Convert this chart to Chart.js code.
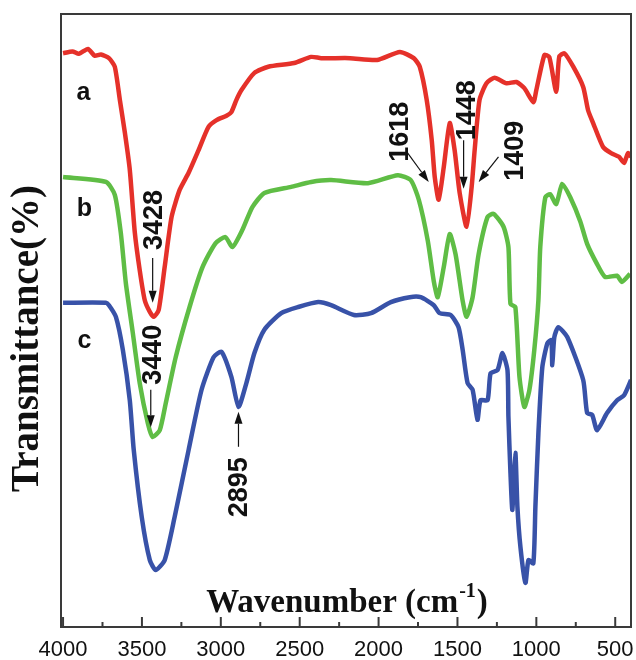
<!DOCTYPE html>
<html lang="en">
<head>
  <meta charset="UTF-8">
  <title>FTIR spectra</title>
  <script src="https://cdn.jsdelivr.net/npm/chart.js"></script>
  <style>
    body {
      margin: 0;
      background: #ffffff;
    }
    #wrap {
      width: 636px;
      height: 660px;
    }
  </style>
</head>
<body>
  <div id="wrap">
    <canvas id="ftir" width="636" height="660"></canvas>
  </div>

  <script>
    // curve labels
    const seriesNames = ['a', 'b', 'c'];

    // x tick labels (every 500, minor ticks every 250)
    const tickLabels = ['500', '1000', '1500', '2000', '2500', '3000', '3500', '4000'];

    // spectrum a (red)
    const waveA = [4000, 3940, 3900, 3842, 3800, 3760, 3709, 3672, 3640, 3608, 3577, 3545, 3514, 3482, 3450, 3425,
      3394, 3356, 3312, 3261, 3204, 3141, 3078, 3027, 2964, 2933, 2901, 2869, 2787, 2699, 2535, 2427, 2364, 2181,
      2010, 1865, 1777, 1739, 1695, 1663, 1644, 1619, 1587, 1549, 1518, 1486, 1442, 1410, 1391, 1360, 1316, 1265,
      1189, 1126, 1076, 1019, 1000, 949, 918, 874, 855, 823, 766, 703, 672, 640, 577, 526, 476, 444, 419, 400];
    const transA = [93.6, 93.9, 93.5, 94.3, 93.2, 93.4, 92.8, 91.4, 86.0, 80.6, 74.6, 64.3, 58.2, 53.3, 51.4, 50.6,
      51.7, 58.7, 66.9, 71.3, 74.1, 77.8, 81.6, 82.7, 83.4, 84.0, 86.0, 87.6, 90.4, 91.4, 92.0, 93.0, 92.8, 92.8,
      92.5, 93.8, 92.8, 91.4, 86.0, 79.4, 73.4, 69.7, 75.0, 82.2, 77.8, 70.8, 65.3, 71.8, 77.8, 86.0, 88.7, 89.6,
      88.7, 88.9, 87.9, 85.6, 87.6, 93.3, 93.0, 87.3, 93.0, 93.6, 91.4, 88.1, 84.3, 82.2, 78.3, 77.3, 76.7, 75.7, 77.3, 76.7];

    // spectrum b (green)
    const waveB = [4000, 3728, 3672, 3634, 3602, 3558, 3514, 3463, 3432, 3387, 3349, 3286, 3198, 3116, 3034, 2971,
      2926, 2863, 2800, 2724, 2554, 2427, 2301, 2067, 1878, 1796, 1745, 1688, 1650, 1625, 1587, 1549, 1512, 1467,
      1442, 1404, 1366, 1309, 1271, 1208, 1177, 1164, 1133, 1107, 1076, 1044, 1013, 987, 975, 943, 912, 874, 836,
      785, 722, 678, 615, 564, 488, 457, 406];
    const transB = [73.4, 72.6, 70.5, 64.3, 56.1, 48.0, 39.8, 33.3, 31.0, 32.1, 36.5, 44.0, 52.2, 58.7, 62.6, 63.6,
      62.0, 64.8, 68.5, 70.8, 71.8, 72.6, 72.9, 72.4, 73.7, 72.9, 69.7, 63.0, 56.4, 53.8, 58.7, 64.1, 60.8, 53.2,
      50.6, 53.8, 60.8, 66.9, 67.4, 65.3, 62.0, 52.7, 52.2, 40.8, 35.9, 38.7, 45.2, 53.3, 62.0, 70.1, 70.6, 69.0, 72.3,
      70.1, 66.2, 62.5, 59.2, 57.1, 57.3, 56.3, 57.6];

    // spectrum c (blue)
    const waveC = [4000, 3728, 3709, 3665, 3621, 3577, 3552, 3501, 3450, 3413, 3356, 3293, 3204, 3122, 3046, 2996,
      2933, 2888, 2838, 2787, 2724, 2617, 2509, 2383, 2301, 2156, 2048, 1922, 1802, 1733, 1650, 1613, 1543, 1493,
      1467, 1436, 1404, 1373, 1354, 1309, 1290, 1246, 1215, 1183, 1177, 1164, 1152, 1133, 1120, 1101, 1069, 1050,
      1019, 1006, 987, 962, 930, 905, 899, 886, 861, 804, 703, 678, 646, 615, 552, 488, 444, 400];
    const transC = [52.9, 52.9, 52.5, 50.6, 45.2, 37.0, 28.9, 17.9, 10.9, 9.3, 10.9, 17.9, 28.9, 38.7, 44.0, 44.9,
      40.8, 35.9, 39.8, 44.7, 48.5, 51.2, 52.2, 53.0, 52.5, 50.9, 51.2, 53.0, 53.8, 53.8, 52.5, 51.2, 50.9, 48.9,
      45.2, 39.8, 38.7, 33.8, 37.0, 37.0, 41.4, 41.9, 44.7, 41.9, 34.3, 25.1, 19.1, 28.4, 19.6, 13.1, 7.2, 10.9,
      10.4, 19.6, 31.6, 42.4, 46.3, 46.8, 42.7, 47.3, 48.9, 47.3, 40.3, 34.9, 34.6, 32.1, 34.9, 37.0, 37.8, 40.3];

    function toPoints(w, t) {
      return w.map((x, i) => ({ x: x, y: t[i] }));
    }

    // peak annotations: text anchor and arrow (from -> to), in data units
    const peaks = [
      { text: '3428', tx: 3419, ty: 66.4, x1: 3432, y1: 60.2, x2: 3432, y2: 52.9 },
      { text: '3440', tx: 3425, ty: 44.4, x1: 3444, y1: 38.7, x2: 3444, y2: 32.6 },
      { text: '2895', tx: 2882, ty: 22.8, x1: 2888, y1: 29.4, x2: 2888, y2: 35.1 },
      { text: '1618', tx: 1859, ty: 80.8, x1: 1821, y1: 77.5, x2: 1682, y2: 72.6 },
      { text: '1448', tx: 1436, ty: 84.3, x1: 1461, y1: 79.4, x2: 1461, y2: 71.5 },
      { text: '1409', tx: 1133, ty: 77.7, x1: 1240, y1: 76.7, x2: 1366, y2: 72.6 }
    ];
    const nameAnchors = [[3870, 87.1], [3865, 68.2], [3865, 46.7]];

    function drawArrow(ctx, x1, y1, x2, y2) {
      const ang = Math.atan2(y2 - y1, x2 - x1);
      const hl = 12, hw = 4;
      ctx.beginPath();
      ctx.moveTo(x1, y1);
      ctx.lineTo(x2 - Math.cos(ang) * hl, y2 - Math.sin(ang) * hl);
      ctx.lineWidth = 1.2;
      ctx.strokeStyle = '#111';
      ctx.stroke();
      ctx.beginPath();
      ctx.moveTo(x2, y2);
      ctx.lineTo(x2 - Math.cos(ang) * hl - Math.sin(ang) * hw, y2 - Math.sin(ang) * hl + Math.cos(ang) * hw);
      ctx.lineTo(x2 - Math.cos(ang) * hl + Math.sin(ang) * hw, y2 - Math.sin(ang) * hl - Math.cos(ang) * hw);
      ctx.closePath();
      ctx.fillStyle = '#111';
      ctx.fill();
    }

    function vText(ctx, txt, x, y) {
      ctx.save();
      ctx.translate(x, y);
      ctx.rotate(-Math.PI / 2);
      ctx.textAlign = 'center';
      ctx.textBaseline = 'middle';
      ctx.fillText(txt, 0, 0);
      ctx.restore();
    }

    const decor = {
      id: 'decor',
      afterDatasetsDraw(chart) {
        const ctx = chart.ctx;
        const area = chart.chartArea;
        const xs = chart.scales.x, ys = chart.scales.y;
        ctx.save();

        // frame
        ctx.strokeStyle = '#3a3a3a';
        ctx.lineWidth = 2;
        ctx.strokeRect(area.left, area.top, area.right - area.left, area.bottom - area.top);

        // inward tick marks on the bottom axis
        xs.ticks.forEach(t => {
          const px = xs.getPixelForValue(t.value);
          const len = t.value % 500 === 0 ? 10 : 5;
          ctx.beginPath();
          ctx.moveTo(px, area.bottom);
          ctx.lineTo(px, area.bottom - len);
          ctx.stroke();
        });

        // curve names
        ctx.fillStyle = '#111';
        ctx.font = 'bold 25px "Liberation Sans", Arial, sans-serif';
        ctx.textAlign = 'center';
        ctx.textBaseline = 'middle';
        seriesNames.forEach((n, i) => {
          ctx.fillText(n, xs.getPixelForValue(nameAnchors[i][0]), ys.getPixelForValue(nameAnchors[i][1]));
        });

        // peak labels and arrows
        ctx.font = 'bold 27px "Liberation Sans", Arial, sans-serif';
        peaks.forEach(p => {
          ctx.fillStyle = '#111';
          vText(ctx, p.text, xs.getPixelForValue(p.tx), ys.getPixelForValue(p.ty));
          drawArrow(ctx, xs.getPixelForValue(p.x1), ys.getPixelForValue(p.y1),
            xs.getPixelForValue(p.x2), ys.getPixelForValue(p.y2));
        });

        // x title, inside the plot
        ctx.fillStyle = '#111';
        ctx.textAlign = 'left';
        ctx.textBaseline = 'alphabetic';
        const big = 'bold 33px "Liberation Serif", "Times New Roman", serif';
        const small = 'bold 20px "Liberation Serif", "Times New Roman", serif';
        ctx.font = big;
        const w1 = ctx.measureText('Wavenumber (cm').width;
        const w3 = ctx.measureText(')').width;
        ctx.font = small;
        const w2 = ctx.measureText('-1').width;
        const cx = (area.left + area.right) / 2 + 0;
        const base = area.bottom - 15;
        let x0 = cx - (w1 + w2 + w3) / 2;
        ctx.font = big;
        ctx.fillText('Wavenumber (cm', x0, base);
        ctx.font = small;
        ctx.fillText('-1', x0 + w1 + 1, base - 15);
        ctx.font = big;
        ctx.fillText(')', x0 + w1 + w2 + 2, base);

        // y title
        ctx.font = 'bold 39px "Liberation Serif", "Times New Roman", serif';
        vText(ctx, 'Transmittance(%)', 28, (area.top + area.bottom) / 2 + 18);

        ctx.restore();
      }
    };

    const ctx = document.getElementById('ftir').getContext('2d');
    const lineStyle = { borderWidth: 4.5, pointRadius: 0, fill: false, tension: 0.2 };

    new Chart(ctx, {
      type: 'line',
      data: {
        datasets: [
          Object.assign({ label: seriesNames[0], data: toPoints(waveA, transA), borderColor: '#e5312a' }, lineStyle),
          Object.assign({ label: seriesNames[1], data: toPoints(waveB, transB), borderColor: '#5fbd45' }, lineStyle),
          Object.assign({ label: seriesNames[2], data: toPoints(waveC, transC), borderColor: '#3852a8' }, lineStyle)
        ]
      },
      options: {
        responsive: false,
        animation: false,
        layout: { padding: { top: 14, right: 5, left: 0, bottom: 0 } },
        plugins: {
          legend: { display: false },
          tooltip: { enabled: false }
        },
        scales: {
          x: {
            type: 'linear',
            reverse: true,
            min: 400,
            max: 4013,
            grid: { display: false },
            border: { display: false },
            afterFit: s => { s.height = 33; },
            ticks: {
              stepSize: 250,
              includeBounds: false,
              autoSkip: false,
              maxRotation: 0,
              padding: 2,
              color: '#111',
              font: { family: '"Liberation Sans", Arial, sans-serif', size: 22 },
              callback: v => tickLabels.includes(String(v)) ? String(v) : ''
            }
          },
          y: {
            min: 0,
            max: 100,
            grid: { display: false },
            border: { display: false },
            ticks: { display: false },
            afterFit: s => { s.width = 61; }
          }
        }
      },
      plugins: [decor]
    });
  </script>
</body>
</html>
